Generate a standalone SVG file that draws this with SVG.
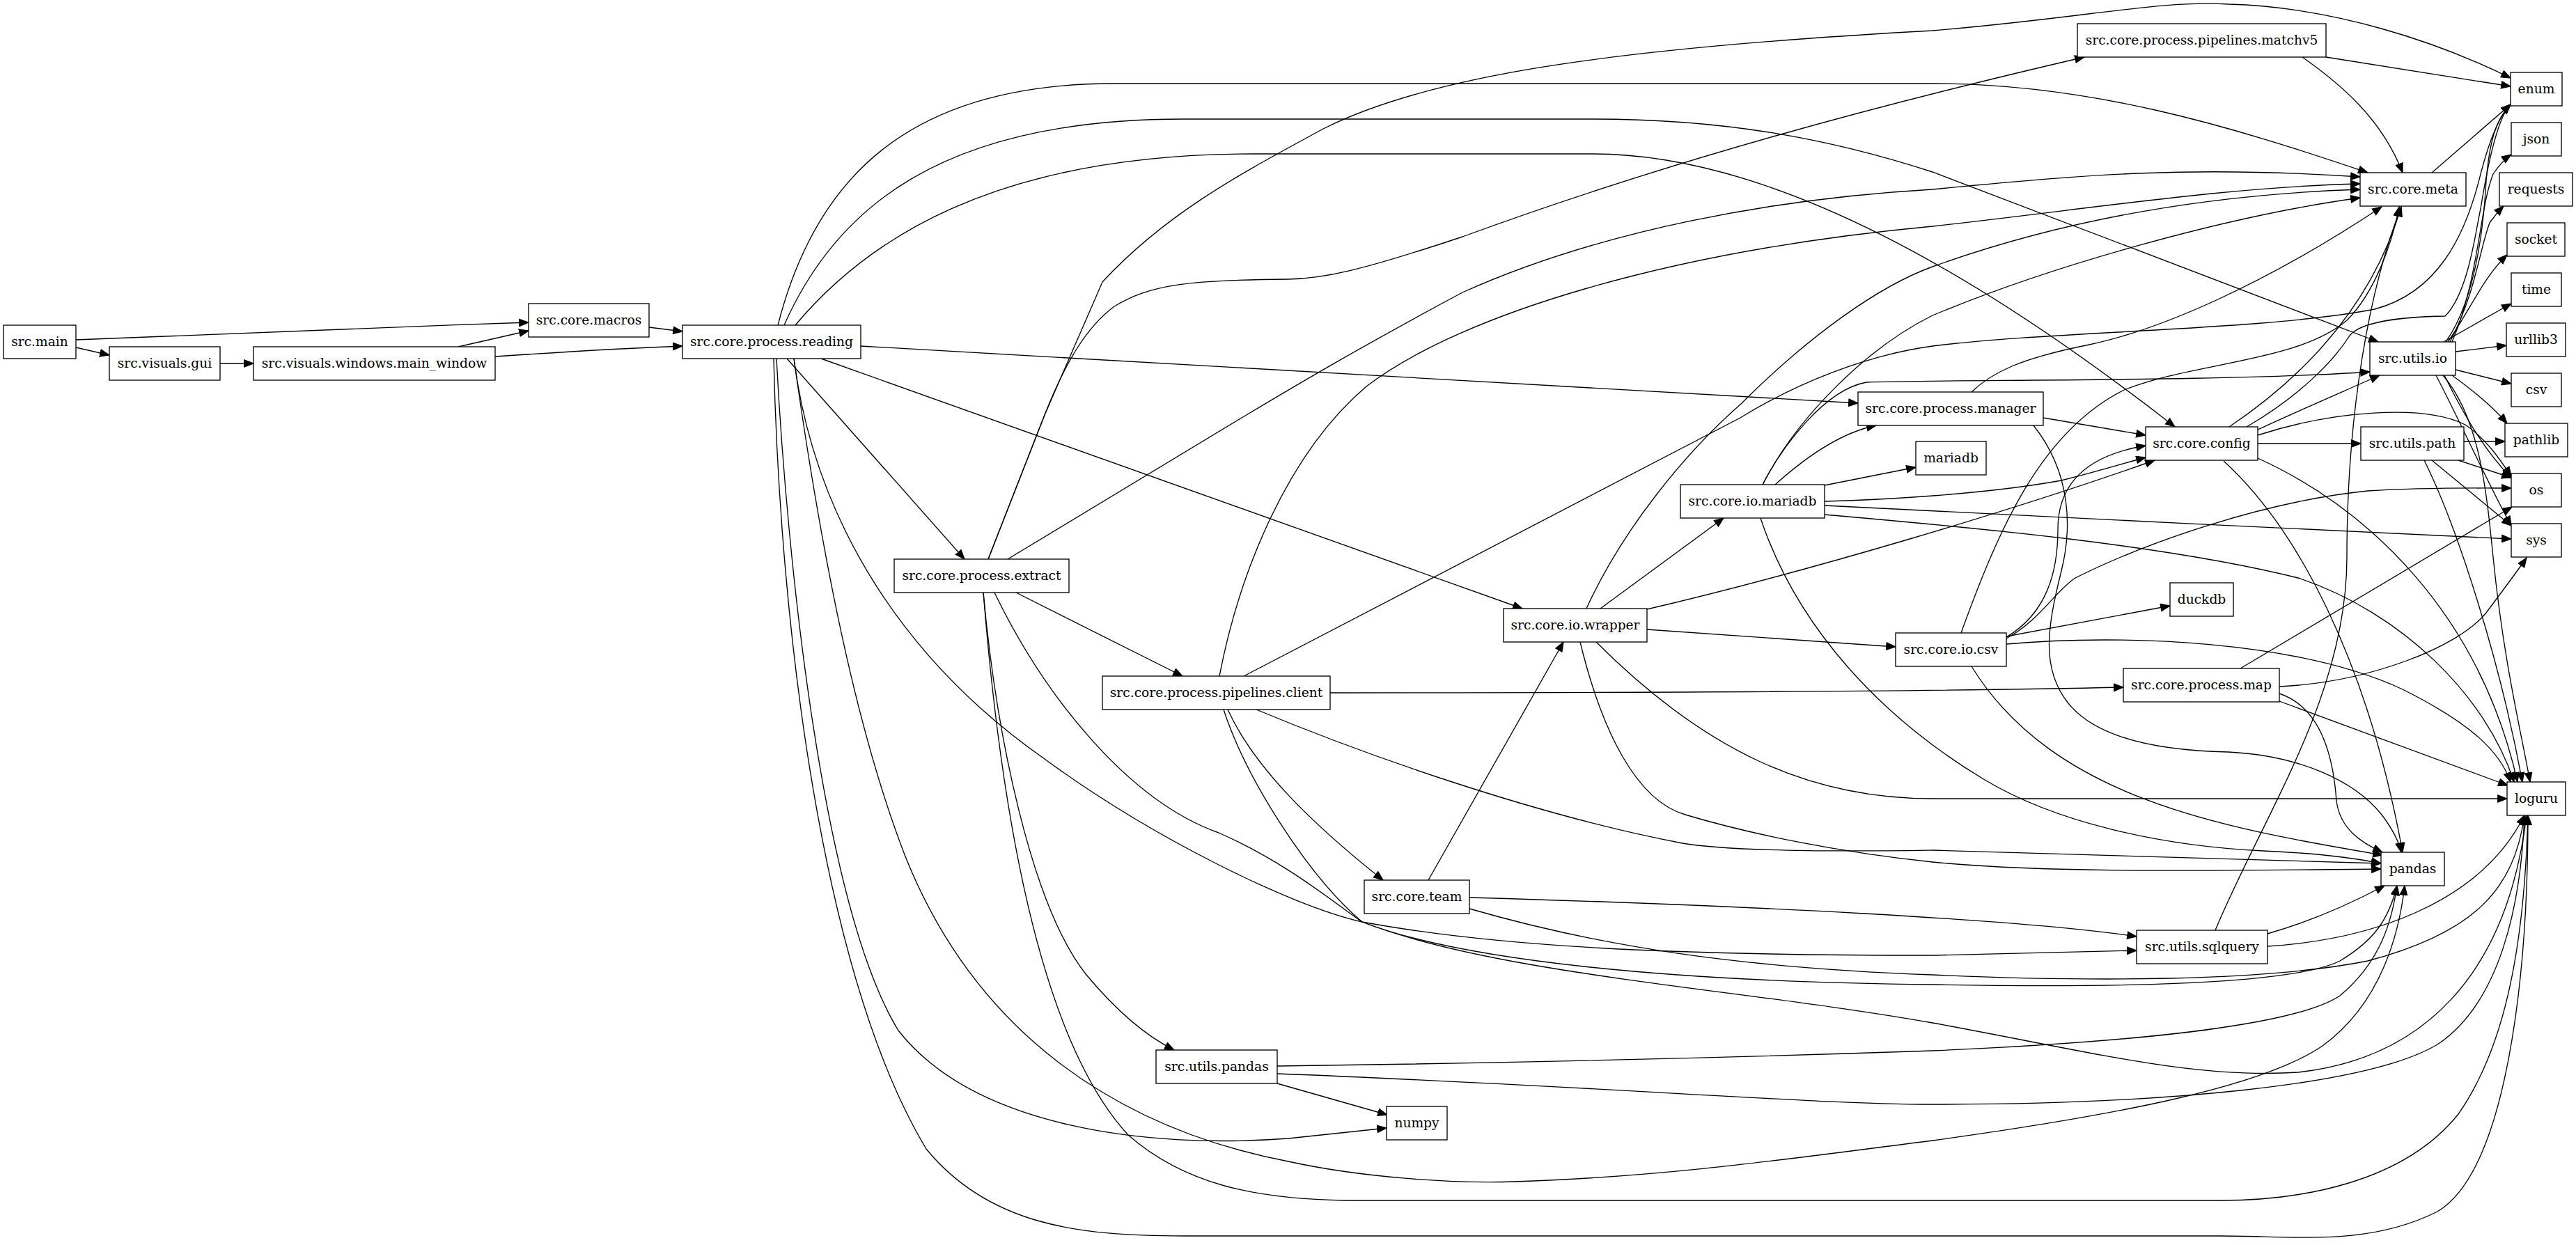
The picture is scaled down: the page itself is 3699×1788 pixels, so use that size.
<svg xmlns="http://www.w3.org/2000/svg" width="3699" height="1788" viewBox="0 0 3699 1788">
<defs>
<marker id="a" markerWidth="16" markerHeight="14" refX="14" refY="6" orient="auto" markerUnits="userSpaceOnUse"><path d="M0.7,0.8 L14,6 L0.7,11.2 z" fill="#000" stroke="#000" stroke-width="1.2"/></marker>
<style>
.n rect{fill:#fff;stroke:#000;stroke-width:1.33}
.n text{font-family:"DejaVu Serif","Liberation Serif",serif;font-size:18.67px;text-anchor:middle;fill:#000}
#edges path{fill:none;stroke:#000;stroke-width:1.33;marker-end:url(#a)}
</style>
</defs>
<rect width="3699" height="1788" fill="#fff"/>
<g id="edges">
<path d="M109,488 C350,478 550,470 759,463"/>
<path d="M109,499 L157,510"/>
<path d="M316,522 L364,522"/>
<path d="M658,498 L759,475"/>
<path d="M711,512 C800,506 900,500 980,497"/>
<path d="M932,470 L980,476"/>
<path d="M1117,467 C1170,260 1300,120 1600,120 L2775,120 C3000,120 3200,180 3400,248"/>
<path d="M1126,467 C1200,300 1350,171 1700,171 L2287,171 C2480,171 2630,200 2775,247 L3415,491"/>
<path d="M1142,467 C1240,350 1420,221 1800,221 L2287,221 C2550,221 2850,400 3123,613"/>
<path d="M1236,497 L2668,579"/>
<path d="M1130,515 L1385,803"/>
<path d="M1179,515 L2186,874"/>
<path d="M1115,515 C1130,800 1180,1300 1290,1480 C1400,1620 1650,1650 1850,1635 L1991,1620"/>
<path d="M1111,515 C1120,900 1180,1400 1330,1650 C1420,1760 1550,1775 1700,1775 L3188,1775 C3300,1775 3400,1790 3500,1740 C3600,1680 3630,1400 3630,1171"/>
<path d="M1140,515 C1180,800 1230,1050 1300,1230 C1400,1480 1600,1620 1850,1668 C1950,1690 2080,1700 2174,1697 C2400,1690 2600,1660 2775,1638 C3050,1600 3250,1560 3335,1502 C3420,1440 3445,1340 3453,1272"/>
<path d="M1140,515 C1170,750 1300,950 1500,1090 C1650,1200 1850,1300 1956,1324 C2150,1360 2400,1372 2775,1372 L3068,1365"/>
<path d="M1419,803 L1500,596 L1583,405 C1680,300 1800,240 1900,185 C2050,110 2300,70 2775,44 C3000,25 3100,0 3200,6 C3350,10 3500,60 3605,112"/>
<path d="M1419,803 L1500,596 C1530,520 1560,470 1600,440 C1650,410 1700,402 1850,401 C1900,400 1950,390 2100,340 C2400,230 2700,150 2993,82"/>
<path d="M1447,803 L1783,600 C1850,560 1950,500 2100,420 C2300,330 2550,285 2775,272 C3000,250 3150,238 3389,254"/>
<path d="M1459,851 L1698,971"/>
<path d="M1412,851 C1430,1050 1480,1300 1560,1400 C1610,1460 1650,1490 1686,1508"/>
<path d="M1412,851 C1440,1200 1500,1500 1620,1630 C1700,1700 1800,1722 1933,1724 L3188,1724 C3300,1724 3450,1700 3530,1600 C3600,1500 3625,1350 3630,1171"/>
<path d="M1428,851 C1500,1000 1620,1150 1750,1196 C1850,1240 1920,1300 1956,1324 C2100,1380 2400,1410 2775,1414 C3100,1420 3300,1410 3360,1380 C3410,1350 3430,1320 3442,1272"/>
<path d="M1751,971 C1780,820 1850,650 1962,555 C2100,450 2400,360 2775,325 C3000,300 3200,268 3389,264"/>
<path d="M1786,971 L2499,600 C2580,550 2680,510 2775,497 C2950,475 3250,475 3410,444 C3500,420 3540,340 3562,250 C3575,200 3590,165 3605,150"/>
<path d="M1910,995 C2400,995 2775,993 3049,987"/>
<path d="M1763,1019 C1800,1100 1880,1180 1986,1264"/>
<path d="M1804,1019 C1950,1080 2200,1170 2416,1211 C2500,1225 2700,1222 2775,1221 L3419,1240"/>
<path d="M1757,1019 C1790,1120 1880,1260 1956,1324 C2150,1400 2500,1420 2775,1469 C3000,1510 3150,1550 3300,1540 C3480,1520 3600,1400 3628,1171"/>
<path d="M2278,874 C2330,760 2420,650 2500,580 C2600,480 2700,410 2775,383 C2950,320 3150,280 3389,272"/>
<path d="M2298,874 L2475,744"/>
<path d="M2365,875 C2600,820 2900,730 3094,661"/>
<path d="M2365,904 L2722,929"/>
<path d="M2269,922 C2300,1050 2350,1150 2420,1170 C2520,1200 2650,1225 2775,1238 C2950,1255 3200,1250 3419,1248"/>
<path d="M2292,922 C2450,1080 2600,1147 2775,1147 L3600,1147"/>
<path d="M2051,1264 L2245,922"/>
<path d="M2110,1289 C2500,1300 2900,1320 3068,1345"/>
<path d="M2110,1305 C2300,1360 2500,1390 2775,1400 C3000,1410 3250,1410 3400,1380 C3550,1340 3610,1280 3625,1171"/>
<path d="M2531,696 C2560,640 2620,560 2680,549 C2800,545 3200,548 3403,534"/>
<path d="M2531,696 C2580,600 2680,500 2775,453 C2950,380 3200,310 3389,284"/>
<path d="M2549,696 C2600,650 2650,620 2694,611"/>
<path d="M2620,697 L2751,671"/>
<path d="M2620,720 C2700,718 2850,710 2960,690 C3020,675 3050,665 3081,657"/>
<path d="M2620,726 C2900,740 3300,760 3606,774"/>
<path d="M2620,739 C2800,755 3100,780 3300,830 C3450,880 3570,1000 3610,1123"/>
<path d="M2528,744 C2580,900 2700,1030 2850,1120 C2950,1180 3100,1215 3250,1222 C3320,1225 3380,1232 3419,1240"/>
<path d="M2831,563 C2860,535 2900,515 3000,495 C3100,474 3250,410 3420,297"/>
<path d="M2934,600 L3081,625"/>
<path d="M2920,611 C2975,680 2975,760 2960,820 C2940,900 2930,960 2970,1010 C3010,1060 3100,1078 3200,1080 C3300,1085 3380,1120 3420,1170 C3435,1190 3445,1210 3448,1224"/>
<path d="M2816,909 C2870,760 2930,620 3050,560 C3150,520 3300,520 3370,460 C3410,420 3435,350 3445,297"/>
<path d="M2881,915 C2940,880 2955,820 2955,760 C2955,700 2990,655 3081,640"/>
<path d="M2881,917 C2930,890 2950,850 2980,830 C3080,780 3250,720 3400,705 C3480,700 3550,701 3606,701"/>
<path d="M2881,914 L3116,870"/>
<path d="M2881,925 C3050,910 3300,920 3450,990 C3550,1040 3590,1080 3605,1123"/>
<path d="M2831,957 C2950,1150 3200,1190 3421,1228"/>
<path d="M3217,960 L3607,728"/>
<path d="M3273,986 C3400,980 3530,930 3570,880 C3600,840 3615,820 3628,801"/>
<path d="M3273,996 C3330,1015 3350,1080 3355,1150 C3360,1190 3390,1210 3421,1224"/>
<path d="M3273,1007 L3601,1128"/>
<path d="M3201,613 C3280,560 3400,460 3448,297"/>
<path d="M3226,613 C3300,570 3350,520 3374,482 C3390,462 3450,455 3511,454 C3545,420 3555,330 3562,300 C3570,250 3585,170 3605,150"/>
<path d="M3242,637 L3390,637"/>
<path d="M3242,617 C3300,590 3370,560 3417,539"/>
<path d="M3242,625 C3350,590 3480,580 3540,610 C3570,630 3590,660 3606,684"/>
<path d="M3193,662 C3300,760 3400,950 3450,1224"/>
<path d="M3242,658 C3400,730 3560,880 3615,1123"/>
<path d="M3181,1336 C3250,1170 3370,1000 3370,800 C3370,600 3400,420 3448,297"/>
<path d="M3256,1341 C3330,1320 3390,1290 3424,1272"/>
<path d="M3256,1359 C3400,1350 3560,1300 3625,1171"/>
<path d="M1834,1531 C2300,1525 2600,1515 2775,1509 C3100,1495 3300,1470 3360,1430 C3420,1380 3435,1320 3442,1272"/>
<path d="M1834,1542 C2300,1560 2600,1586 2775,1586 C3100,1586 3400,1560 3500,1500 C3590,1440 3620,1300 3625,1171"/>
<path d="M1834,1556 L1992,1601"/>
<path d="M3340,82 L3605,124"/>
<path d="M3306,82 C3360,120 3420,170 3450,248"/>
<path d="M3492,248 L3605,150"/>
<path d="M3538,634 L3597,634"/>
<path d="M3530,661 L3606,686"/>
<path d="M3492,661 L3606,755"/>
<path d="M3481,661 C3530,760 3590,950 3622,1123"/>
<path d="M3512,491 C3555,430 3566,330 3570,260 C3575,200 3585,170 3605,150"/>
<path d="M3521,491 C3560,400 3560,300 3580,250 C3590,235 3597,228 3606,222"/>
<path d="M3518,491 C3555,420 3560,360 3575,320 C3582,310 3588,303 3595,296"/>
<path d="M3515,491 C3550,440 3565,400 3600,366"/>
<path d="M3509,491 L3606,436"/>
<path d="M3526,505 L3599,496"/>
<path d="M3526,531 L3606,551"/>
<path d="M3521,539 C3550,560 3580,585 3600,608"/>
<path d="M3510,539 C3540,600 3570,650 3606,686"/>
<path d="M3498,539 C3540,620 3570,690 3606,755"/>
<path d="M3508,539 C3560,600 3570,700 3580,800 C3595,950 3620,1050 3633,1123"/>
</g>
<g id="main" class="n"><rect x="5" y="467" width="104" height="48"/><text x="57" y="497">src.main</text></g>
<g id="gui" class="n"><rect x="157" y="498" width="159" height="48"/><text x="236.5" y="528">src.visuals.gui</text></g>
<g id="main_window" class="n"><rect x="364" y="498" width="347" height="48"/><text x="537.5" y="528">src.visuals.windows.main_window</text></g>
<g id="macros" class="n"><rect x="759" y="436" width="173" height="48"/><text x="845.5" y="466">src.core.macros</text></g>
<g id="reading" class="n"><rect x="980" y="467" width="256" height="48"/><text x="1108" y="497">src.core.process.reading</text></g>
<g id="matchv5" class="n"><rect x="2983" y="34" width="357" height="48"/><text x="3161.5" y="64">src.core.process.pipelines.matchv5</text></g>
<g id="enum" class="n"><rect x="3605" y="104" width="74" height="48"/><text x="3642" y="134">enum</text></g>
<g id="json" class="n"><rect x="3606" y="176" width="72" height="48"/><text x="3642" y="206">json</text></g>
<g id="requests" class="n"><rect x="3589" y="248" width="105" height="48"/><text x="3641.5" y="278">requests</text></g>
<g id="socket" class="n"><rect x="3600" y="320" width="83" height="48"/><text x="3641.5" y="350">socket</text></g>
<g id="time" class="n"><rect x="3606" y="392" width="72" height="48"/><text x="3642" y="422">time</text></g>
<g id="urllib3" class="n"><rect x="3599" y="464" width="85" height="48"/><text x="3641.5" y="494">urllib3</text></g>
<g id="csv" class="n"><rect x="3606" y="536" width="72" height="48"/><text x="3642" y="566">csv</text></g>
<g id="meta" class="n"><rect x="3389" y="248" width="152" height="48"/><text x="3465" y="278">src.core.meta</text></g>
<g id="utils_io" class="n"><rect x="3403" y="491" width="123" height="48"/><text x="3464.5" y="521">src.utils.io</text></g>
<g id="manager" class="n"><rect x="2668" y="563" width="266" height="48"/><text x="2801" y="593">src.core.process.manager</text></g>
<g id="config" class="n"><rect x="3081" y="613" width="161" height="48"/><text x="3161.5" y="643">src.core.config</text></g>
<g id="utils_path" class="n"><rect x="3390" y="613" width="148" height="48"/><text x="3464" y="643">src.utils.path</text></g>
<g id="pathlib" class="n"><rect x="3597" y="608" width="90" height="48"/><text x="3642" y="638">pathlib</text></g>
<g id="os" class="n"><rect x="3606" y="680" width="72" height="48"/><text x="3642" y="710">os</text></g>
<g id="sys" class="n"><rect x="3606" y="752" width="72" height="48"/><text x="3642" y="782">sys</text></g>
<g id="mariadb" class="n"><rect x="2751" y="634" width="101" height="48"/><text x="2801.5" y="664">mariadb</text></g>
<g id="io_mariadb" class="n"><rect x="2413" y="696" width="207" height="48"/><text x="2516.5" y="726">src.core.io.mariadb</text></g>
<g id="duckdb" class="n"><rect x="3116" y="837" width="91" height="48"/><text x="3161.5" y="867">duckdb</text></g>
<g id="extract" class="n"><rect x="1284" y="803" width="251" height="48"/><text x="1409.5" y="833">src.core.process.extract</text></g>
<g id="wrapper" class="n"><rect x="2159" y="874" width="206" height="48"/><text x="2262" y="904">src.core.io.wrapper</text></g>
<g id="io_csv" class="n"><rect x="2722" y="909" width="159" height="48"/><text x="2801.5" y="939">src.core.io.csv</text></g>
<g id="client" class="n"><rect x="1583" y="971" width="327" height="48"/><text x="1746.5" y="1001">src.core.process.pipelines.client</text></g>
<g id="map" class="n"><rect x="3049" y="960" width="224" height="48"/><text x="3161" y="990">src.core.process.map</text></g>
<g id="loguru" class="n"><rect x="3600" y="1123" width="84" height="48"/><text x="3642" y="1153">loguru</text></g>
<g id="pandas" class="n"><rect x="3419" y="1224" width="91" height="48"/><text x="3464.5" y="1254">pandas</text></g>
<g id="team" class="n"><rect x="1959" y="1264" width="151" height="48"/><text x="2034.5" y="1294">src.core.team</text></g>
<g id="sqlquery" class="n"><rect x="3068" y="1336" width="188" height="48"/><text x="3162" y="1366">src.utils.sqlquery</text></g>
<g id="utils_pandas" class="n"><rect x="1660" y="1508" width="174" height="48"/><text x="1747" y="1538">src.utils.pandas</text></g>
<g id="numpy" class="n"><rect x="1991" y="1589" width="87" height="48"/><text x="2034.5" y="1619">numpy</text></g>
</svg>
